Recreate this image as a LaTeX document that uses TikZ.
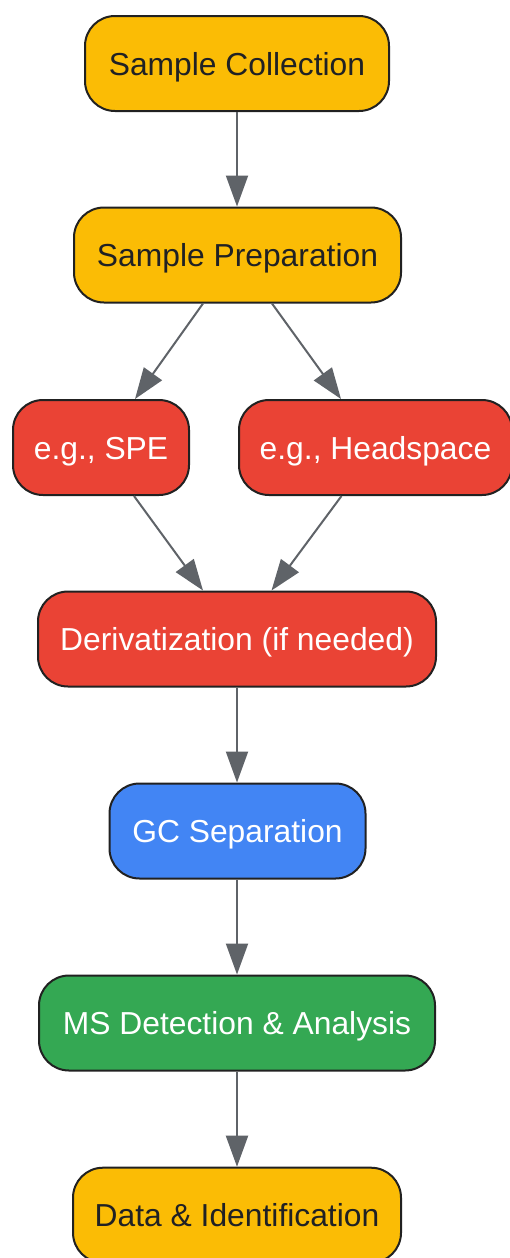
\documentclass[tikz,border=0pt]{standalone}
\usepackage{fontspec}
\setmainfont{Liberation Sans}
\usetikzlibrary{arrows.meta,calc}
\definecolor{gyellow}{HTML}{FBBC05}
\definecolor{gred}{HTML}{EA4335}
\definecolor{gblue}{HTML}{4285F4}
\definecolor{ggreen}{HTML}{34A853}
\definecolor{darktext}{HTML}{202124}
\definecolor{bordercol}{HTML}{212121}
\definecolor{arrowcol}{HTML}{5F6368}
\tikzset{
  box/.style={draw=bordercol, line width=2pt, rounded corners=30pt,
    minimum height=95pt, inner sep=0pt, align=center,
    text height=23pt, text depth=0pt,
    font=\fontsize{31.8}{38}\selectfont},
  ybox/.style={box, fill=gyellow, text=darktext},
  rbox/.style={box, fill=gred, text=white},
  bbox/.style={box, fill=gblue, text=white},
  gbox/.style={box, fill=ggreen, text=white},
  conn/.style={draw=arrowcol, line width=2pt,
    -{Triangle[length=31pt,width=22pt]}}
}
\begin{document}
\begin{tikzpicture}[x=1pt,y=-1pt]
\clip (0,0) rectangle (510,1258);
\fill[white] (0,0) rectangle (510,1258);
\node[ybox, minimum width=304pt] (coll) at (237,63.5) {Sample Collection};
\node[ybox, minimum width=327pt] (prep) at (237.5,255) {Sample Preparation};
\node[rbox, minimum width=176pt] (spe) at (101,447.5) {e.g., SPE};
\node[rbox, minimum width=273pt] (head) at (375.5,447.5) {e.g., Headspace};
\node[rbox, minimum width=398pt] (deriv) at (237,639) {Derivatization (if needed)};
\node[bbox, minimum width=256pt] (gc) at (237.5,831) {GC Separation};
\node[gbox, minimum width=396pt] (ms) at (237,1023) {MS Detection \& Analysis};
\node[ybox, minimum width=328pt] (data) at (237,1215.2) {Data \& Identification};
\draw[conn] (coll.south) -- (coll.south |- prep.north);
\draw[conn] ($(prep.south)+(-34.5,0)$) -- ($(spe.north)+(34,0)$);
\draw[conn] ($(prep.south)+(34.5,0)$) -- ($(head.north)+(-34.5,0)$);
\draw[conn] ($(spe.south)+(33,0)$) -- ($(deriv.north)+(-34,0)$);
\draw[conn] ($(head.south)+(-34,0)$) -- ($(deriv.north)+(34.5,0)$);
\draw[conn] (deriv.south) -- (deriv.south |- gc.north);
\draw[conn] (gc.south -| deriv.south) -- (deriv.south |- ms.north);
\draw[conn] (ms.south) -- (ms.south |- data.north);
\end{tikzpicture}
\end{document}
